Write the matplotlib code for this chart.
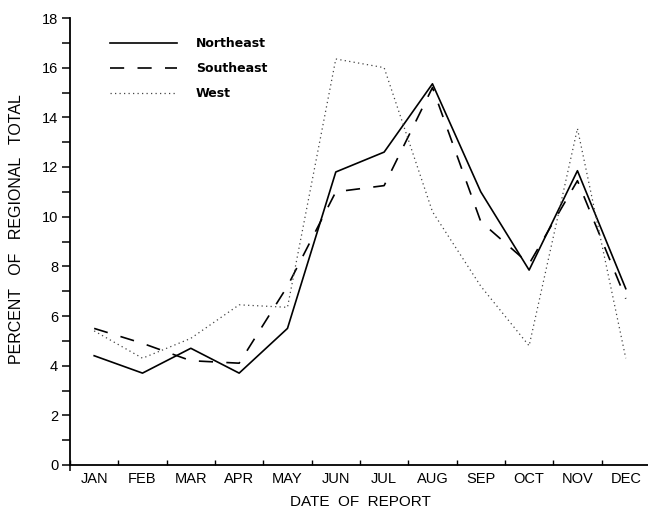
import matplotlib
matplotlib.use("Agg")
import matplotlib.pyplot as plt
from matplotlib.ticker import FixedLocator, MultipleLocator

months = ["JAN", "FEB", "MAR", "APR", "MAY", "JUN", "JUL", "AUG", "SEP", "OCT", "NOV", "DEC"]
northeast = [4.4, 3.7, 4.7, 3.7, 5.5, 11.8, 12.6, 15.35, 11.0, 7.85, 11.85, 7.1]
southeast = [5.5, 4.9, 4.2, 4.1, 7.2, 11.0, 11.25, 15.2, 9.8, 8.1, 11.45, 6.7]
west = [5.4, 4.3, 5.1, 6.45, 6.35, 16.35, 16.0, 10.2, 7.2, 4.8, 13.55, 4.3]
y_ticks = [0, 2, 4, 6, 8, 10, 12, 14, 16, 18]

plt.rcParams['font.family'] = ['Liberation Sans', 'DejaVu Sans']

fig = plt.figure(figsize=(6.48, 5.09), dpi=100)
ax = fig.add_axes([70/648, 1-465/509, 1-70/648, (465-18)/509])

x = list(range(len(months)))
ax.plot(x, northeast, color='black', lw=1.2, ls='-', label='Northeast')
ax.plot(x, southeast, color='black', lw=1.2, ls=(0, (8.5, 8)), label='Southeast')
ax.plot(x, west, color='#444444', lw=0.9, ls=(0, (1, 2.6)), label='West')

ax.set_xlim(-0.5, 11.46)
ax.set_ylim(0, 18)

for s in ['top', 'right']:
    ax.spines[s].set_visible(False)
for s in ['left', 'bottom']:
    ax.spines[s].set_linewidth(1.3)

# y axis
ax.yaxis.set_major_locator(FixedLocator(y_ticks))
ax.yaxis.set_minor_locator(MultipleLocator(1))
ax.tick_params(axis='y', which='both', direction='out', length=5.5, width=1.1,
               labelsize=10.5, pad=3)

# x axis: boundary ticks pointing up, labels at month centres
bounds = [i - 0.5 for i in range(len(months) + 1)]
ax.xaxis.set_major_locator(FixedLocator(bounds))
ax.xaxis.set_major_formatter(plt.NullFormatter())
ax.tick_params(axis='x', which='major', direction='in', length=3.5, width=1.0)
ax.xaxis.set_minor_locator(FixedLocator(x))
ax.set_xticks(x, months, minor=True)
ax.tick_params(axis='x', which='minor', length=0, labelsize=10.5, pad=5)

# small downward extension of the y axis at the origin
ax2 = ax.secondary_xaxis('bottom')
ax2.set_xticks([-0.5])
ax2.set_xticklabels([''])
ax2.tick_params(direction='out', length=4, width=1.1)
ax2.spines['bottom'].set_visible(False)

fig.text(360/648, 1-502/509, "DATE  OF  REPORT", ha='center', va='center', fontsize=11)
fig.text(17/648, 1-229/509, "PERCENT   OF   REGIONAL   TOTAL", ha='center', va='center',
         rotation=90, fontsize=11.5)

leg = ax.legend(loc='upper left', bbox_to_anchor=((110-70)/580, (465-37)/447),
                frameon=False, borderpad=0, borderaxespad=0,
                handlelength=5.4, handletextpad=1.5, labelspacing=0.97,
                prop={'family': 'DejaVu Sans', 'weight': 'bold', 'size': 9})

fig.savefig("out.png", dpi=100)
